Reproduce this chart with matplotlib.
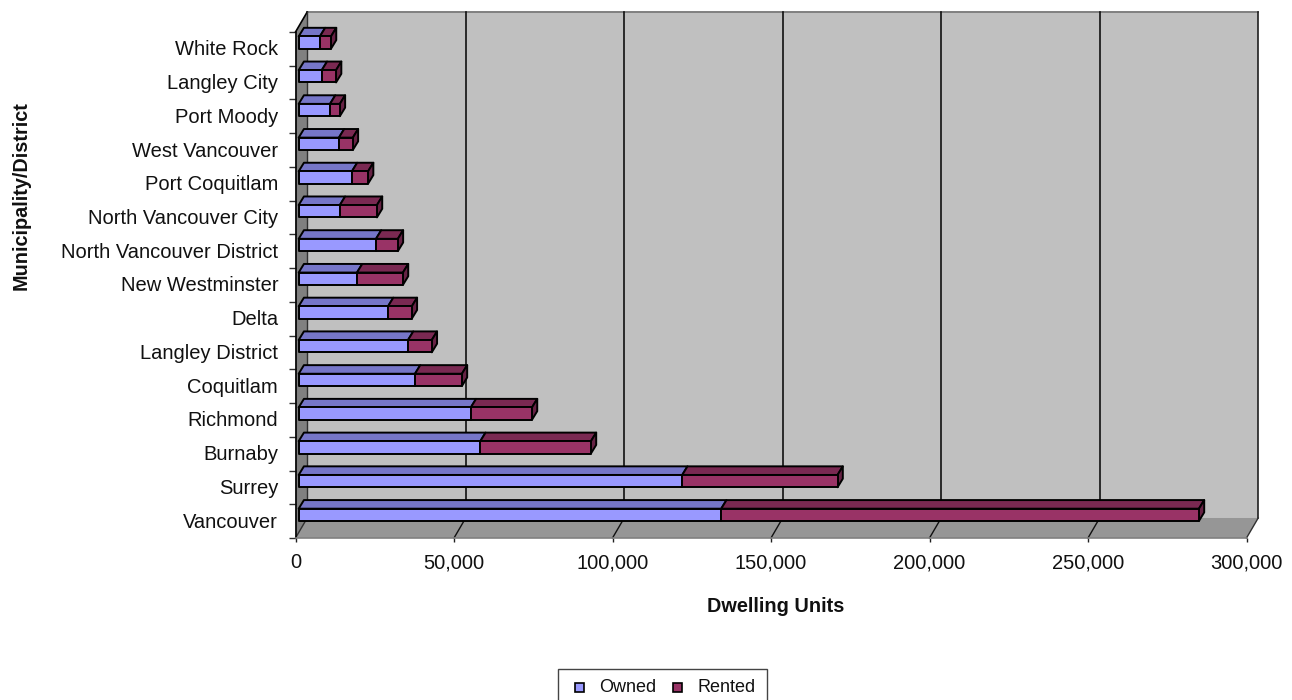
import matplotlib
matplotlib.use("Agg")
import matplotlib.pyplot as plt
from matplotlib.patches import Rectangle

plt.rcParams['font.family'] = ['Liberation Sans', 'DejaVu Sans']

municipalities = ["Vancouver", "Surrey", "Burnaby", "Richmond", "Coquitlam",
                  "Langley District", "Delta", "New Westminster",
                  "North Vancouver District", "North Vancouver City",
                  "Port Coquitlam", "West Vancouver", "Port Moody",
                  "Langley City", "White Rock"]
owned = [133300, 121000, 57300, 54300, 36700, 34500, 28200, 18400,
         24400, 13000, 16800, 12700, 9900, 7300, 6700]
rented = [150700, 49000, 34900, 19300, 14800, 7500, 7500, 14500,
          6900, 11700, 5100, 4400, 3100, 4500, 3500]
x_ticks = [0, 50000, 100000, 150000, 200000, 250000, 300000]

WIDTH, HEIGHT = 1292, 700
DEPTH_X = 3690   # wall depth in value units
DEPTH_Y = 0.593  # wall depth in category units
XMAX = 300000
NCAT = len(municipalities)

OWNED_FRONT, OWNED_TOP = "#9999FF", "#7676C8"
RENTED_FRONT, RENTED_TOP, RENTED_SIDE = "#993366", "#7A2952", "#662244"

fig = plt.figure(figsize=(WIDTH / 100, HEIGHT / 100), dpi=100)
ax = fig.add_axes([295.5 / WIDTH, (HEIGHT - 538) / HEIGHT, 951 / WIDTH, 506 / HEIGHT])
ax.set_xlim(0, XMAX)
ax.set_ylim(0, NCAT)
ax.patch.set_visible(False)


def poly(xs, ys, color, z, edge="black", lw=1.4):
    ax.fill(xs, ys, facecolor=color, edgecolor=edge, linewidth=lw, zorder=z,
            clip_on=False, joinstyle="round")


# walls and floor
poly([DEPTH_X, XMAX + DEPTH_X, XMAX + DEPTH_X, DEPTH_X],
     [DEPTH_Y, DEPTH_Y, NCAT + DEPTH_Y, NCAT + DEPTH_Y], "#C0C0C0", 1, edge="none")
poly([0, DEPTH_X, DEPTH_X, 0], [0, DEPTH_Y, NCAT + DEPTH_Y, NCAT], "#808080", 1, edge="none")
poly([0, XMAX, XMAX + DEPTH_X, DEPTH_X], [0, 0, DEPTH_Y, DEPTH_Y], "#969696", 1, edge="none")

ax.plot([DEPTH_X, XMAX + DEPTH_X], [NCAT + DEPTH_Y] * 2, color="#808080", lw=1.4, zorder=2, clip_on=False)
ax.plot([XMAX + DEPTH_X] * 2, [DEPTH_Y, NCAT + DEPTH_Y], color="#202020", lw=1.2, zorder=2, clip_on=False)
ax.plot([XMAX, XMAX + DEPTH_X], [0, DEPTH_Y], color="#303030", lw=1.0, zorder=2, clip_on=False)
ax.plot([0, DEPTH_X], [NCAT, NCAT + DEPTH_Y], color="black", lw=1.2, zorder=2, clip_on=False)
ax.plot([0, DEPTH_X], [0, DEPTH_Y], color="#303030", lw=1.0, zorder=2, clip_on=False)
ax.plot([DEPTH_X] * 2, [DEPTH_Y, NCAT + DEPTH_Y], color="#303030", lw=1.0, zorder=2, clip_on=False)

# gridlines run up the back wall and across the floor
for v in x_ticks[1:-1]:
    ax.plot([v + DEPTH_X] * 2, [DEPTH_Y, NCAT + DEPTH_Y], color="#101010", lw=1.2, zorder=2, clip_on=False)
    ax.plot([v, v + DEPTH_X], [0, DEPTH_Y], color="#101010", lw=1.0, zorder=2, clip_on=False)

# stacked boxes, back row first so nearer ones overlap
x0 = 0.27 * DEPTH_X
bar_dx = 0.45 * DEPTH_X
bar_dy = 0.43 * DEPTH_Y
bar_h = 0.365
for i in range(NCAT - 1, -1, -1):
    z = 10 + (NCAT - i)
    y0 = i + 0.5 - 0.156 + 0.27 * DEPTH_Y
    y1 = y0 + bar_h
    xa = x0
    xb = x0 + owned[i]
    xc = xb + rented[i]
    poly([xa, xb, xb + bar_dx, xa + bar_dx], [y1, y1, y1 + bar_dy, y1 + bar_dy], OWNED_TOP, z)
    poly([xb, xc, xc + bar_dx, xb + bar_dx], [y1, y1, y1 + bar_dy, y1 + bar_dy], RENTED_TOP, z)
    poly([xc, xc + bar_dx, xc + bar_dx, xc], [y0, y0 + bar_dy, y1 + bar_dy, y1], RENTED_SIDE, z)
    poly([xa, xb, xb, xa], [y0, y0, y1, y1], OWNED_FRONT, z)
    poly([xb, xc, xc, xb], [y0, y0, y1, y1], RENTED_FRONT, z)

for side in ("top", "right"):
    ax.spines[side].set_visible(False)
ax.spines["left"].set_color("black")
ax.spines["left"].set_linewidth(1.2)
ax.spines["left"].set_zorder(3)
ax.spines["bottom"].set_color("#808080")
ax.spines["bottom"].set_linewidth(1.2)
ax.spines["bottom"].set_zorder(3)

ax.set_xticks(x_ticks)
ax.set_xticklabels([f"{v:,}" for v in x_ticks], fontsize=14.5, color="#111111")
ax.tick_params(axis="x", length=3, width=1.0, color="#202020", pad=8)
ax.set_yticks(range(NCAT + 1))
ax.set_yticklabels([])
ax.tick_params(axis="y", which="major", length=5, width=1.0, color="#303030")
ax.set_yticks([i + 0.53 for i in range(NCAT)], minor=True)
ax.set_yticklabels(municipalities, minor=True, fontsize=14.5, color="#111111")
ax.tick_params(axis="y", which="minor", length=0, pad=12.5)

fig.text(776 / WIDTH, 1 - 606 / HEIGHT, "Dwelling Units", ha="center", va="center",
         fontsize=14.3, fontweight="bold", color="#111111")
fig.text(21 / WIDTH, 1 - 196 / HEIGHT, "Municipality/District", ha="center", va="center",
         rotation=90, fontsize=14.3, fontweight="bold", color="#111111")

# legend box runs off the bottom edge of the canvas
fig.add_artist(Rectangle((558 / WIDTH, -0.01), 209 / WIDTH, (HEIGHT - 669) / HEIGHT + 0.01,
                         transform=fig.transFigure, facecolor="white", edgecolor="#444444", linewidth=1.0))
for px, color, name in [(579, OWNED_FRONT, "Owned"), (677.5, RENTED_FRONT, "Rented")]:
    fig.add_artist(Rectangle(((px - 4.5) / WIDTH, 1 - 692 / HEIGHT), 9 / WIDTH, 9 / HEIGHT,
                             transform=fig.transFigure, facecolor=color, edgecolor="black", linewidth=1.2))
    fig.text((px + 20) / WIDTH, 1 - 688 / HEIGHT, name, ha="left", va="center",
             fontsize=13, color="#111111")

fig.savefig("out.png", dpi=100)
